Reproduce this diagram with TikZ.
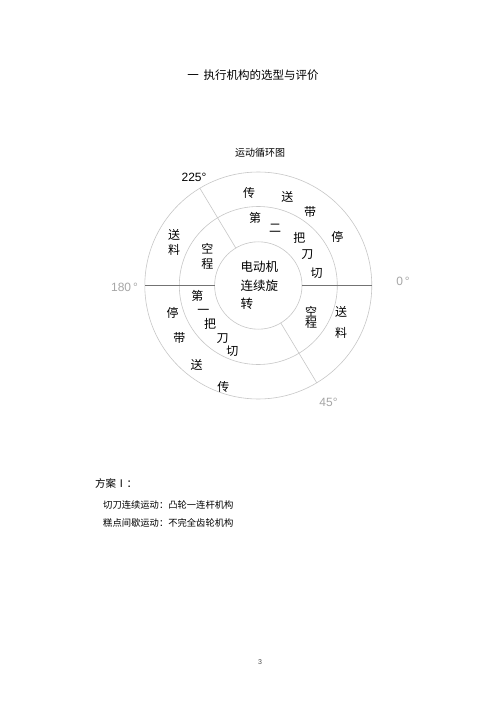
\documentclass[tikz,border=0pt]{standalone}
\usepackage{fontspec}
\usetikzlibrary{calc}
\setmainfont{Noto Sans CJK SC}
\newfontfamily\lat{Liberation Sans}
\begin{document}
\begin{tikzpicture}[x=1pt,y=-1pt,
  ringline/.style={draw=black!22, line width=0.6pt},
  axisline/.style={draw=black!55, line width=1pt},
  rc/.style={inner sep=0pt, font=\fontsize{12}{12}\selectfont},
  graylab/.style={inner sep=0pt, text=black!35, font=\lat\fontsize{12}{12}\selectfont},
  every node/.style={inner sep=0pt}]
\useasboundingbox (0,0) rectangle (500,708);
\fill[white] (0,0) rectangle (500,708);

% title
\node[font=\fontsize{11.5}{12}\selectfont] (title) at (253,75) {一\hspace{5pt}执行机构的选型与评价};
\node[font=\fontsize{10}{10}\selectfont] (cap) at (260,153) {运动循环图};

% circles
\coordinate (O) at (258.3,285.5);
\draw[ringline] (O) circle (113.5);
\draw[ringline] (O) circle (79);
\draw[ringline] (O) circle (43.7);

% dividing lines
\draw[axisline] ($(O)+(-43.7,0)$) -- ($(O)+(-113.5,0)$);
\draw[axisline] ($(O)+(43.7,0)$) -- ($(O)+(113.5,0)$);
\draw[ringline] ($(O)+(-0.515*43.7,-0.857*43.7)$) -- ($(O)+(-0.515*113.5,-0.857*113.5)$);
\draw[ringline] ($(O)+(0.515*43.7,0.857*43.7)$) -- ($(O)+(0.515*113.5,0.857*113.5)$);

% centre text
\node[rc, align=left, anchor=north west, font=\fontsize{12.5}{18.5}\selectfont] (motor) at (240.5,261) {电动机\\连续旋\\转};

% outer ring upper right
\node[rc] (a1) at (249,193.3) {传};
\node[rc] (a2) at (287.3,196.7) {送};
\node[rc] (a3) at (310,211.7) {带};
\node[rc] (a4) at (337.3,237.3) {停};
% middle ring upper right
\node[rc] (b1) at (255,217.7) {第};
\node[rc] (b2) at (275,228.3) {二};
\node[rc] (b3) at (299.3,238.3) {把};
\node[rc] (b4) at (307.3,255) {刀};
\node[rc] (b5) at (316.7,273.3) {切};
% upper left
\node[rc] (c1) at (174,235) {送};
\node[rc] (c2) at (174,250) {料};
\node[rc] (d1) at (207.3,248.3) {空};
\node[rc] (d2) at (207.3,264) {程};
% lower left middle
\node[rc] (e1) at (197.3,296) {第};
\node[rc] (e2) at (203.3,311.7) {一};
\node[rc] (e3) at (210,324) {把};
\node[rc] (e4) at (222.7,338.3) {刀};
\node[rc] (e5) at (232.3,351) {切};
% lower left outer
\node[rc] (f1) at (172.7,312.7) {停};
\node[rc] (f2) at (179.3,338.3) {带};
\node[rc] (f3) at (196.7,365) {送};
\node[rc] (f4) at (223.3,386.7) {传};
% lower right
\node[rc] (g1) at (311,311.7) {空};
\node[rc] (g2) at (311,323.5) {程};
\node[rc] (h1) at (341,311.7) {送};
\node[rc] (h2) at (341,333.3) {料};

% angle labels
\node[inner sep=0pt, font=\lat\fontsize{12}{12}\selectfont] (l225) at (194,177) {225°};
\node[graylab] (l180) at (124.5,287) {180\,°};
\node[graylab] (l0) at (403,281) {0\,°};
\node[graylab] (l45) at (328.5,402.5) {45°};

% bottom text
\node[anchor=west, font=\fontsize{10.5}{11}\selectfont] (plan) at (95,483) {方案Ⅰ：};
\node[anchor=west, font=\fontsize{9.3}{10}\selectfont] (t1) at (103,504.5) {切刀连续运动：凸轮一连杆机构};
\node[anchor=west, font=\fontsize{9.3}{10}\selectfont] (t2) at (103,522.7) {糕点间歇运动：不完全齿轮机构};

\node[font=\lat\fontsize{7}{7}\selectfont, text=black!70] (pg) at (260,662) {3};
\end{tikzpicture}
\end{document}
